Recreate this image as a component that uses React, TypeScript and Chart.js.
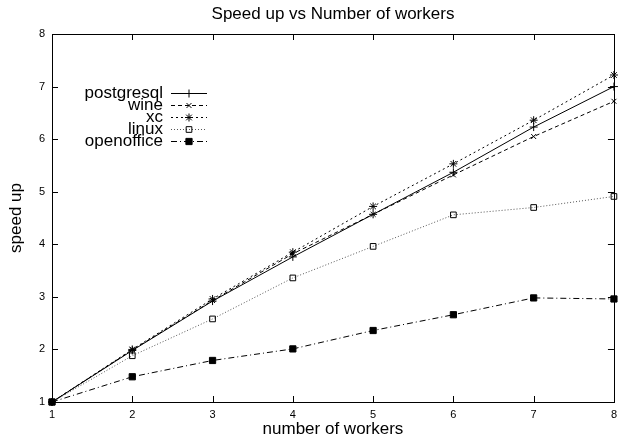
import React, { useEffect, useRef } from 'react';
import { Chart, registerables } from 'chart.js';
import { drawPoint } from 'chart.js/helpers';

Chart.register(...registerables);

const workers = [1, 2, 3, 4, 5, 6, 7, 8];
const seriesNames = ['postgresql', 'wine', 'xc', 'linux', 'openoffice'];
const postgresql = [1, 1.98, 2.92, 3.76, 4.57, 5.37, 6.23, 7.0];
const wine = [1, 1.99, 2.93, 3.82, 4.57, 5.32, 6.05, 6.72];
const xc = [1, 2.0, 2.96, 3.85, 4.72, 5.53, 6.36, 7.22];
const linux = [1, 1.88, 2.58, 3.36, 3.96, 4.56, 4.7, 4.91];
const openoffice = [1, 1.48, 1.79, 2.01, 2.36, 2.66, 2.98, 2.96];
const yTicks = [1, 2, 3, 4, 5, 6, 7, 8];

const FONT = "'Liberation Sans', Arial, Helvetica, sans-serif";

const frameAndLegend = {
  id: 'frameAndLegend',
  afterDraw(chart: any) {
    const { ctx, chartArea } = chart;
    const { left, right, top, bottom } = chartArea;
    const xs = chart.scales.x;
    const ys = chart.scales.y;
    ctx.save();
    ctx.strokeStyle = '#000';
    ctx.lineWidth = 1;
    ctx.setLineDash([]);
    ctx.strokeRect(Math.round(left) + 0.5, Math.round(top) + 0.5, Math.round(right - left), Math.round(bottom - top));
    const tl = 6;
    ctx.beginPath();
    workers.forEach((w) => {
      const px = Math.round(xs.getPixelForValue(w)) + 0.5;
      ctx.moveTo(px, bottom);
      ctx.lineTo(px, bottom - tl);
      ctx.moveTo(px, top);
      ctx.lineTo(px, top + tl);
    });
    yTicks.forEach((v) => {
      const py = Math.round(ys.getPixelForValue(v)) + 0.5;
      ctx.moveTo(left, py);
      ctx.lineTo(left + tl, py);
      ctx.moveTo(right, py);
      ctx.lineTo(right - tl, py);
    });
    ctx.stroke();

    // legend
    const textRight = 163;
    const lineX0 = 171;
    const lineX1 = 207;
    const y0 = 92.5;
    const step = 12.2;
    ctx.font = `17px ${FONT}`;
    ctx.textAlign = 'right';
    ctx.textBaseline = 'middle';
    chart.data.datasets.forEach((ds: any, i: number) => {
      const y = y0 + i * step;
      ctx.fillStyle = '#000';
      ctx.fillText(ds.label, textRight, y + 0.5);
      ctx.save();
      ctx.strokeStyle = ds.borderColor;
      ctx.lineWidth = ds.borderWidth;
      ctx.setLineDash(ds.borderDash || []);
      ctx.beginPath();
      ctx.moveTo(lineX0, Math.round(y) + 0.5);
      ctx.lineTo(lineX1, Math.round(y) + 0.5);
      ctx.stroke();
      ctx.restore();
      ctx.save();
      ctx.setLineDash([]);
      ctx.strokeStyle = ds.pointBorderColor;
      ctx.fillStyle = ds.pointBackgroundColor;
      ctx.lineWidth = ds.pointBorderWidth;
      drawPoint(ctx, { pointStyle: ds.pointStyle, radius: ds.pointRadius, borderWidth: ds.pointBorderWidth, rotation: 0 } as any, (lineX0 + lineX1) / 2, Math.round(y) + 0.5);
      ctx.restore();
    });
    ctx.restore();
  },
};

export default function App() {
  const ref = useRef<HTMLCanvasElement | null>(null);
  useEffect(() => {
    document.body.style.margin = '0';
    if (!ref.current) return;
    Chart.defaults.color = '#000';
    Chart.defaults.font.family = FONT;
    const mk = (arr: number[]) => workers.map((w, i) => ({ x: w, y: arr[i] }));
    const base = {
      borderColor: '#000',
      borderWidth: 1,
      pointBorderColor: '#000',
      pointBorderWidth: 1,
      tension: 0,
      fill: false,
      clip: false,
    };
    const chart = new Chart(ref.current, {
      type: 'line',
      data: {
        datasets: [
          { ...base, label: seriesNames[0], data: mk(postgresql), borderDash: [], pointStyle: 'cross', pointRadius: 4, pointBackgroundColor: '#000' },
          { ...base, label: seriesNames[1], data: mk(wine), borderDash: [4, 3], pointStyle: 'crossRot', pointRadius: 3.5, pointBackgroundColor: '#000' },
          { ...base, label: seriesNames[2], data: mk(xc), borderDash: [2, 3], pointStyle: 'star', pointRadius: 4, pointBackgroundColor: '#000' },
          { ...base, label: seriesNames[3], data: mk(linux), borderColor: '#555', borderDash: [1, 2], pointStyle: 'rect', pointRadius: 4, pointBackgroundColor: 'rgba(255,255,255,0)' },
          { ...base, label: seriesNames[4], data: mk(openoffice), borderDash: [6, 3, 1, 3], pointStyle: 'rect', pointRadius: 4.4, pointBackgroundColor: '#000' },
        ] as any,
      },
      options: {
        animation: false,
        responsive: false,
        layout: { padding: { left: 0, right: 5, top: 0, bottom: 0 } },
        plugins: {
          legend: { display: false },
          tooltip: { enabled: false },
          title: {
            display: true,
            text: 'Speed up vs Number of workers',
            fullSize: false,
            color: '#000',
            font: { size: 17, weight: 'normal', family: FONT },
            padding: { top: 4, bottom: 9.6 },
          },
        },
        scales: {
          x: {
            type: 'linear',
            min: 1,
            max: 8,
            afterFit: (s: any) => { s.height = 41; },
            ticks: { stepSize: 1, padding: 6, font: { size: 11 }, color: '#000', maxRotation: 0 },
            grid: { display: false, drawTicks: false },
            border: { display: false },
            title: { display: true, text: 'number of workers', font: { size: 17 }, color: '#000', padding: { top: 0, bottom: 3 } },
          },
          y: {
            type: 'linear',
            min: 1,
            max: 8,
            afterFit: (s: any) => { s.width = 52; },
            ticks: { stepSize: 1, padding: 7, font: { size: 11 }, color: '#000' },
            grid: { display: false, drawTicks: false },
            border: { display: false },
            title: { display: true, text: 'speed up', font: { size: 17 }, color: '#000', padding: { top: 6, bottom: 0 } },
          },
        },
      } as any,
      plugins: [frameAndLegend],
    });
    return () => chart.destroy();
  }, []);
  return <canvas ref={ref} width={623} height={443} style={{ display: 'block' }} />;
}
